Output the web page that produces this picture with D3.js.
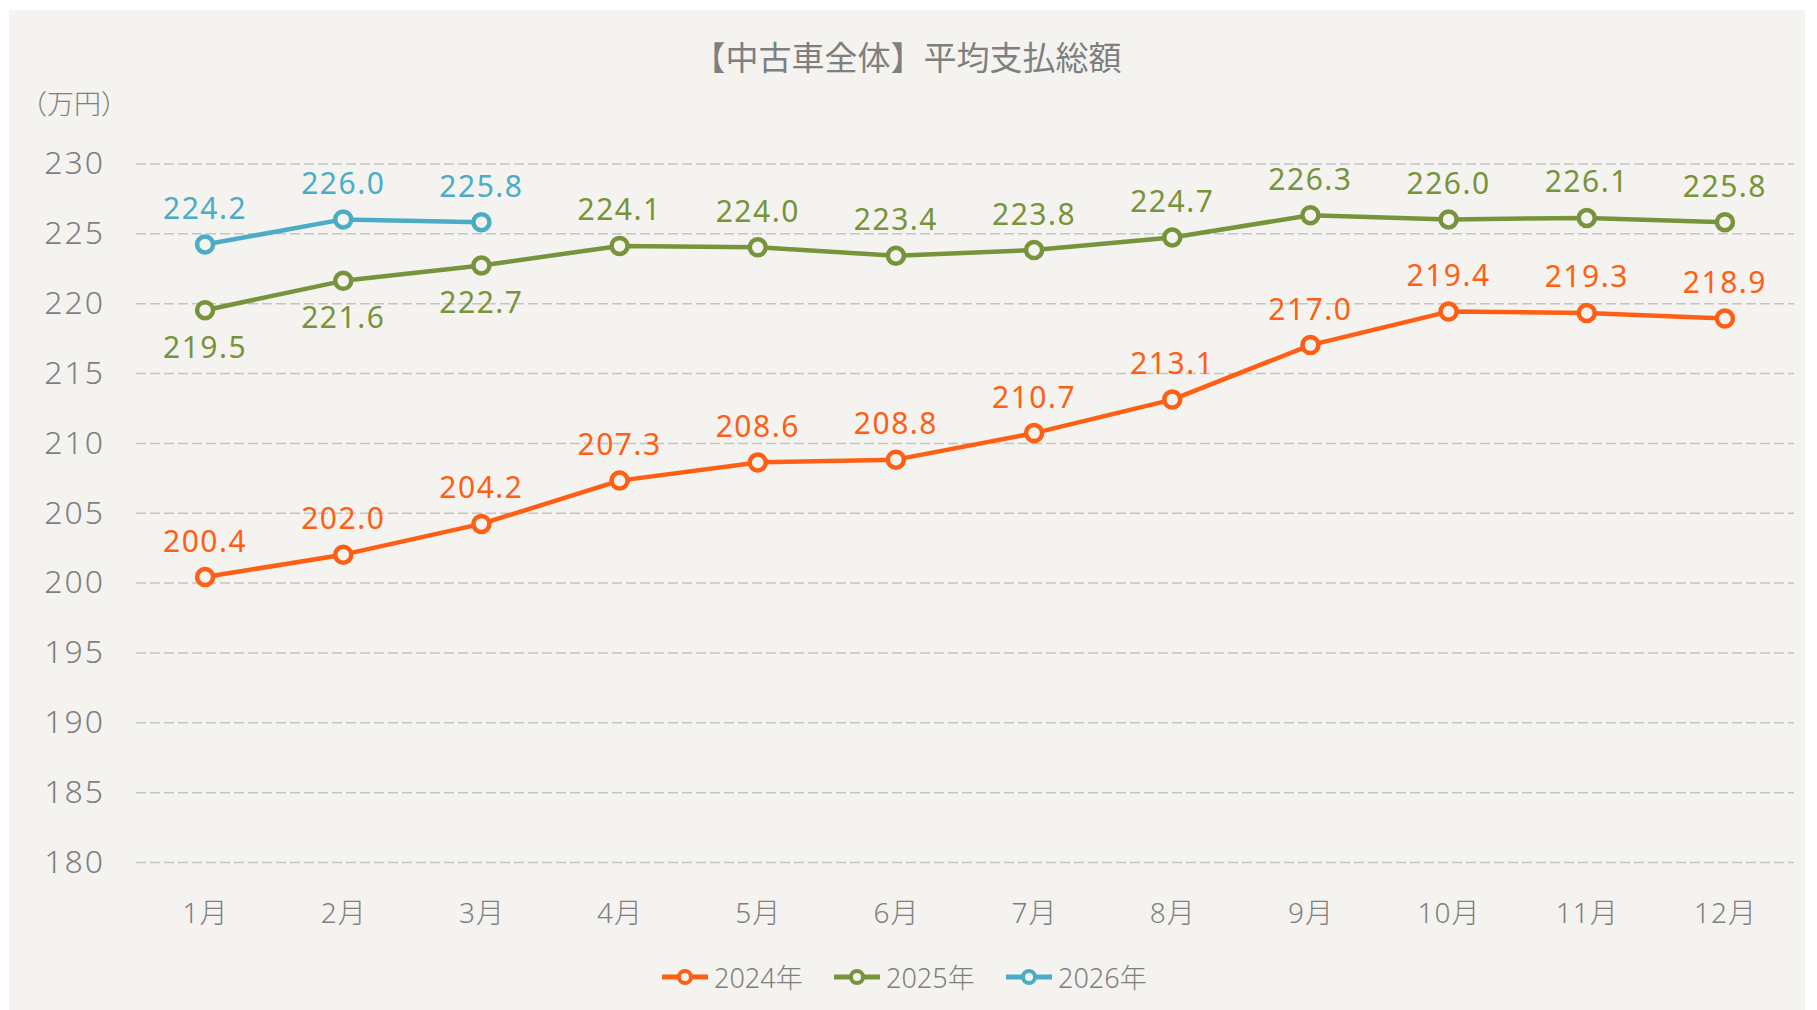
<!DOCTYPE html>
<html lang="ja">
<meta charset="utf-8">
<style type="text/css">
  body { margin: 0; background: #fff; }
  svg { display: block; }
  text { font-family: "Noto Sans", "Noto Sans CJK JP", sans-serif; font-weight: 300; fill: #7f7f7f; }
  .grid line { stroke: #c4c4c4; stroke-width: 1.5px; stroke-dasharray: 10,4; }
  .grid .domain { display: none; }
  .axis .domain, .axis line { display: none; }
  .series { fill: none; stroke-width: 4.5px; stroke-linejoin: round; }
  .dot { fill: #f4f3ef; stroke-width: 4.5px; }
  .lbl, .title { font-weight: 400; }
</style>
<body>
<script src="https://d3js.org/d3.v7.min.js"></script>
<script>
var months = ["1月","2月","3月","4月","5月","6月","7月","8月","9月","10月","11月","12月"];
var yTicks = [180,185,190,195,200,205,210,215,220,225,230];
var years = ["2024年","2025年","2026年"];
var colors = ["#ff5f14","#77933c","#4bacc6"];
var v2024 = [200.4,202.0,204.2,207.3,208.6,208.8,210.7,213.1,217.0,219.4,219.3,218.9];
var v2025 = [219.5,221.6,222.7,224.1,224.0,223.4,223.8,224.7,226.3,226.0,226.1,225.8];
var v2026 = [224.2,226.0,225.8];
// labels below the point (2025, Jan-Mar)
var below2025 = [true,true,true,false,false,false,false,false,false,false,false,false];

var W = 1817, H = 1010;
var svg = d3.select("body").append("svg")
    .attr("width", W)
    .attr("height", H);

svg.append("rect")
    .attr("x", 9).attr("y", 10)
    .attr("width", 1796).attr("height", 1000)
    .attr("fill", "#f4f3ef");

var plotL = 136, plotR = 1794, plotT = 163.5, plotB = 862;

var x = d3.scalePoint().domain(months).range([plotL, plotR]).padding(0.5);
var y = d3.scaleLinear().domain([180, 230]).range([plotB, plotT]);

// gridlines
svg.append("g")
    .attr("class", "grid")
    .attr("transform", "translate(" + plotL + ",0)")
    .call(d3.axisLeft(y).tickValues(yTicks).tickSize(-(plotR - plotL)).tickFormat(""));

// y labels
var yAxis = svg.append("g")
    .attr("class", "axis")
    .attr("transform", "translate(105,0)")
    .call(d3.axisLeft(y).tickValues(yTicks).tickSize(0).tickPadding(0));
yAxis.selectAll("text")
    .style("font-size", "32px")
    .style("letter-spacing", "2px")
    .attr("fill", "#7f7f7f");

// x labels
var xAxis = svg.append("g")
    .attr("class", "axis")
    .attr("transform", "translate(0,913)")
    .call(d3.axisBottom(x).tickSize(0).tickPadding(0));
xAxis.selectAll("text")
    .attr("dy", "0.35em")
    .style("font-size", "28px")
    .style("letter-spacing", "1px")
    .attr("fill", "#7f7f7f");

// title + unit
svg.append("text")
    .attr("class", "title")
    .attr("x", 907).attr("y", 57)
    .attr("text-anchor", "middle")
    .attr("dominant-baseline", "central")
    .style("font-size", "33px")
    .text("【中古車全体】平均支払総額");

svg.append("text")
    .attr("x", 20).attr("y", 103)
    .attr("dominant-baseline", "central")
    .style("font-size", "27px")
    .text("（万円）");

var series = [
  { name: years[0], color: colors[0], values: v2024, below: null },
  { name: years[1], color: colors[1], values: v2025, below: below2025 },
  { name: years[2], color: colors[2], values: v2026, below: null }
];

var line = d3.line()
    .x(function (d, i) { return x(months[i]); })
    .y(function (d) { return y(d); });

series.forEach(function (s) {
  var g = svg.append("g");
  g.append("path")
      .attr("class", "series")
      .attr("stroke", s.color)
      .attr("d", line(s.values));

  g.selectAll("circle")
      .data(s.values)
      .enter().append("circle")
      .attr("class", "dot")
      .attr("stroke", s.color)
      .attr("cx", function (d, i) { return x(months[i]); })
      .attr("cy", function (d) { return y(d); })
      .attr("r", 8);

  g.selectAll(".lbl")
      .data(s.values)
      .enter().append("text")
      .attr("class", "lbl")
      .attr("text-anchor", "middle")
      .attr("dominant-baseline", "central")
      .attr("x", function (d, i) { return x(months[i]); })
      .attr("y", function (d, i) {
        var off = (s.below && s.below[i]) ? 36 : -37;
        return y(d) + off;
      })
      .style("font-size", "30px")
      .style("letter-spacing", "1.5px")
      .style("fill", s.color)
      .text(function (d) { return d.toFixed(1); });
});

// legend
var legend = svg.append("g").attr("transform", "translate(662,977)");
var item = legend.selectAll("g")
    .data(series)
    .enter().append("g")
    .attr("transform", function (d, i) { return "translate(" + (i * 172) + ",0)"; });
item.append("line")
    .attr("x1", 0).attr("x2", 46)
    .attr("stroke", function (d) { return d.color; })
    .attr("stroke-width", 5);
item.append("circle")
    .attr("cx", 23).attr("r", 6)
    .attr("fill", "#f4f3ef")
    .attr("stroke", function (d) { return d.color; })
    .attr("stroke-width", 4);
item.append("text")
    .attr("x", 52)
    .attr("dominant-baseline", "central")
    .style("font-size", "27px")
    .text(function (d) { return d.name; });
</script>
</body>
</html>
